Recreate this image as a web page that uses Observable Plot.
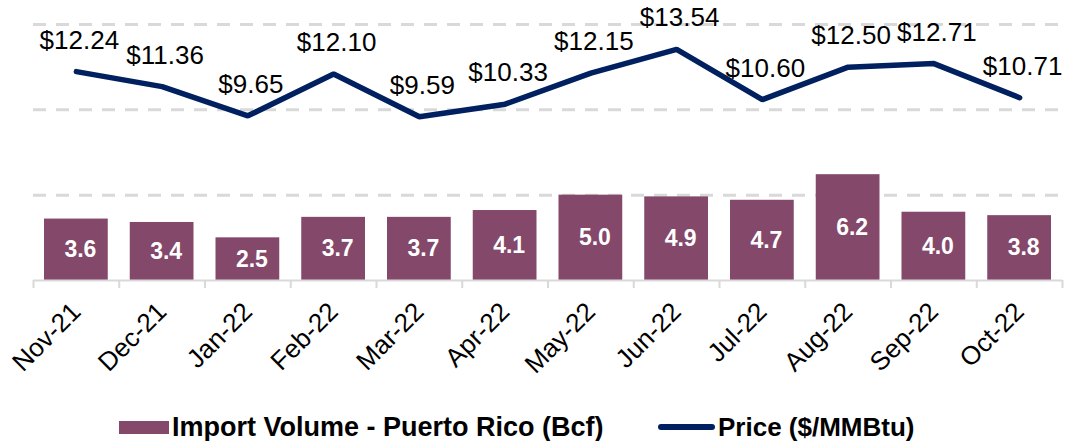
<!DOCTYPE html>
<html>
<head>
<meta charset="utf-8">
<script src="https://cdn.jsdelivr.net/npm/d3@7"></script>
<script src="https://cdn.jsdelivr.net/npm/@observablehq/plot@0.6"></script>
<style>
  body { margin: 0; background: #fff; font-family: "Liberation Sans", Arial, sans-serif; }
  #legend { position: relative; height: 30px; margin-top: 17px; font-weight: bold; font-size: 27px; color: #000; }
  .item { position: absolute; top: 0; height: 30px; display: flex; align-items: center; white-space: nowrap; }
  .sw-bar { width: 50px; height: 13px; background: #84486A; margin-right: 3px; }
  .sw-line { width: 57px; height: 6px; border-radius: 3px; background: #002060; margin-right: 3px; }
</style>
</head>
<body>
<div id="chart"></div>
<div id="legend">
  <div class="item" style="left:119px"><div class="sw-bar"></div><span>Import Volume - Puerto Rico (Bcf)</span></div>
  <div class="item" style="left:658px"><div class="sw-line"></div><span style="font-size:26px">Price ($/MMBtu)</span></div>
</div>
<script>
const months = ["Nov-21","Dec-21","Jan-22","Feb-22","Mar-22","Apr-22","May-22","Jun-22","Jul-22","Aug-22","Sep-22","Oct-22"];
const volume = [3.6, 3.4, 2.5, 3.7, 3.7, 4.1, 5.0, 4.9, 4.7, 6.2, 4.0, 3.8];
const price = [12.24, 11.36, 9.65, 12.10, 9.59, 10.33, 12.15, 13.54, 10.60, 12.50, 12.71, 10.71];
const gridValues = [5, 10, 15];

const data = months.map((m, i) => ({month: m, volume: volume[i], price: price[i]}));
const W = 1067, ML = 33, MR = 5;
const bw = (W - ML - MR) / months.length;

const chart = Plot.plot({
  width: W,
  height: 395,
  marginLeft: ML,
  marginRight: MR,
  marginTop: 24,
  marginBottom: 115,
  style: {fontFamily: '"Liberation Sans", Arial, sans-serif', background: "#fff", color: "#000"},
  x: {domain: months, padding: 0, round: false, label: null},
  y: {domain: [0, 15], axis: null},
  marks: [
    Plot.ruleY(gridValues, {stroke: "#d9d9d9", strokeWidth: 3, strokeDasharray: "13,10"}),
    Plot.barY(data, {x: "month", y: "volume", fill: "#84486A", insetLeft: 11, insetRight: 11}),
    Plot.ruleY([0], {stroke: "#d9d9d9", strokeWidth: 2}),
    Plot.ruleX(months, {x: d => d, y1: 0, y2: 0, insetBottom: -8, dx: -bw / 2, stroke: "#d9d9d9", strokeWidth: 2}),
    Plot.ruleX(months.slice(-1), {x: d => d, y1: 0, y2: 0, insetBottom: -8, dx: bw / 2, stroke: "#d9d9d9", strokeWidth: 2}),
    Plot.text(data, {x: "month", y: d => d.volume / 2, text: d => d.volume.toFixed(1), fill: "white", fontWeight: "bold", fontSize: 23, dx: 4}),
    Plot.line(data, {x: "month", y: "price", stroke: "#002060", strokeWidth: 5.5, strokeLinecap: "round", strokeLinejoin: "miter"}),
    Plot.text(data, {x: "month", y: "price", text: d => "$" + d.price.toFixed(2), dy: -23, dx: 3, lineAnchor: "bottom", fontSize: 26, fill: "#000"}),
    Plot.axisX({tickSize: 0, tickRotate: -45, fontSize: 26, tickPadding: 27, fill: "#000"})
  ]
});
document.getElementById("chart").append(chart);
</script>
</body>
</html>
